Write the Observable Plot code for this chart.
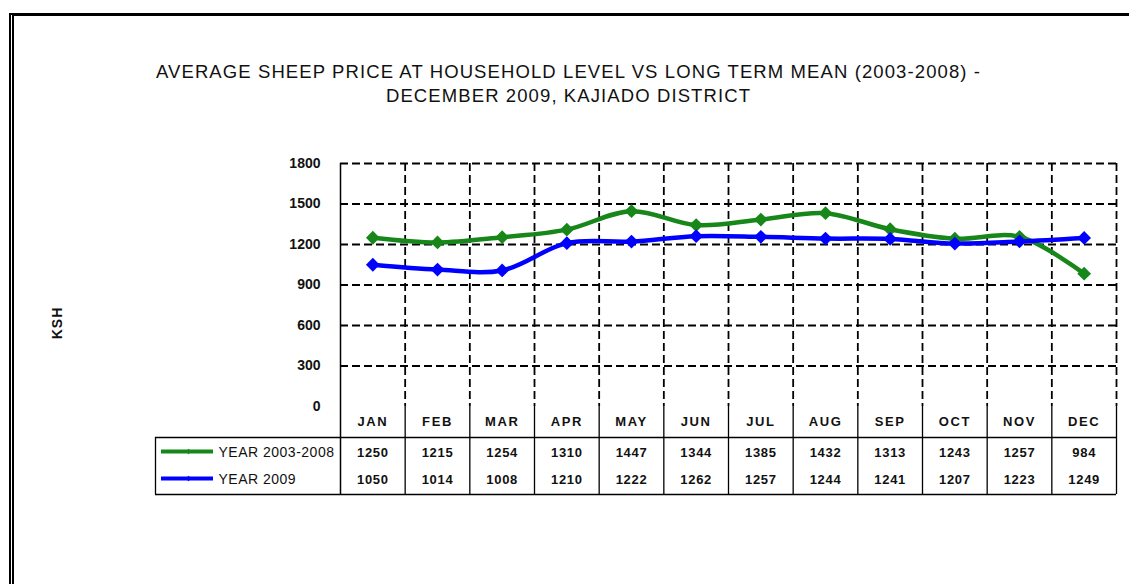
<!DOCTYPE html>
<html>
<head>
<meta charset="utf-8">
<script src="https://cdn.jsdelivr.net/npm/d3@7"></script>
<script src="https://cdn.jsdelivr.net/npm/@observablehq/plot@0.6"></script>
<style>
  html, body { margin: 0; padding: 0; background: #fff; }
  #wrap { position: relative; width: 1129px; height: 584px; overflow: hidden; }
  #frame { position: absolute; left: 9px; top: 13px; width: 1200px; height: 700px;
           border-left: 5px double #000; border-top: 3px solid #000; box-sizing: border-box; }
  #chart { position: absolute; left: 0; top: 0; }
  g[aria-description="title"] text { letter-spacing: 1.1px; }
  g[aria-description="months"] text { letter-spacing: 1.6px; }
  g[aria-description="values"] text { letter-spacing: 0.7px; }
  g[aria-description="legend"] text { letter-spacing: 0.5px; }
  g[aria-description="ylabel"] text { letter-spacing: 1px; }
</style>
</head>
<body>
<div id="wrap"><div id="frame"></div><div id="chart"></div></div>
<script>
const titleLine1 = "AVERAGE SHEEP PRICE AT HOUSEHOLD LEVEL VS LONG TERM MEAN (2003-2008) -";
const titleLine2 = "DECEMBER 2009, KAJIADO DISTRICT";
const yLabel = "KSH";
const months = ["JAN","FEB","MAR","APR","MAY","JUN","JUL","AUG","SEP","OCT","NOV","DEC"];
const seriesNames = ["YEAR 2003-2008", "YEAR 2009"];
const longTermMean = [1250,1215,1254,1310,1447,1344,1385,1432,1313,1243,1257,984];
const year2009 = [1050,1014,1008,1210,1222,1262,1257,1244,1241,1207,1223,1249];
const yTicks = [0,300,600,900,1200,1500,1800];
const colors = ["#17871a", "#0000ff"];

const seriesValues = [longTermMean, year2009];
const data = seriesValues.flatMap((vals, s) => vals.map((v, i) => ({series: seriesNames[s], s, i, month: months[i], value: v})));
const boundaries = d3.range(1, months.length + 1);
const rowDy = [46, 73];

const font = "'Liberation Sans', Arial, sans-serif";
const marks = [
  // grid
  Plot.ruleY(yTicks.filter(t => t > 0), {y: d => d, stroke: "#000", strokeWidth: 1.8, strokeDasharray: "8,4"}),
  Plot.ruleX(boundaries, {x: d => d, stroke: "#000", strokeWidth: 1.8, strokeDasharray: "8,4"}),
  // left axis line extending into table
  Plot.ruleX([0], {x: d => d, stroke: "#000", strokeWidth: 1.5, insetBottom: -88}),
  // table verticals
  Plot.ruleX(boundaries, {x: d => d, stroke: "#000", strokeWidth: 1.3, insetTop: 243, insetBottom: -88}),
  Plot.ruleX([0], {x: d => d, dx: -185, stroke: "#000", strokeWidth: 1.3, insetTop: 274, insetBottom: -88}),
  // table horizontals
  Plot.ruleY([0], {y: d => d, dy: 31, stroke: "#000", strokeWidth: 1.3, insetLeft: -185}),
  Plot.ruleY([0], {y: d => d, dy: 88, stroke: "#000", strokeWidth: 1.3, insetLeft: -185}),
  // series lines
  Plot.line(data, {x: d => d.i + 0.5, y: "value", z: "series", stroke: d => colors[d.s], strokeWidth: 4.5, curve: "catmull-rom"}),
  Plot.dot(data, {x: d => d.i + 0.5, y: "value", fill: d => colors[d.s], symbol: "diamond2", r: 6.2, stroke: null}),
  // month labels
  Plot.text(months, {x: (d, i) => i + 0.5, text: d => d, frameAnchor: "bottom", lineAnchor: "middle", dy: 15, fontSize: 13, fontWeight: "bold", fill: "#111", ariaDescription: "months"}),
  // table values
  ...seriesValues.map((vals, s) => Plot.text(vals, {x: (d, i) => i + 0.5, text: d => String(d), frameAnchor: "bottom", lineAnchor: "middle", dy: rowDy[s], fontSize: 13, fontWeight: "bold", fill: "#111", ariaDescription: "values"})),
  // legend swatches in table
  ...seriesNames.map((name, s) => Plot.ruleY([0], {y: d => d, dy: rowDy[s] - 1, stroke: colors[s], strokeWidth: 4, insetLeft: -179, insetRight: 903})),
  ...seriesNames.map((name, s) => Plot.dot([name], {frameAnchor: "bottom-left", dx: -152, dy: rowDy[s] - 1, fill: colors[s], symbol: "diamond2", r: 2.5})),
  ...seriesNames.map((name, s) => Plot.text([name], {text: d => d, frameAnchor: "bottom-left", lineAnchor: "middle", dx: -122, dy: rowDy[s], textAnchor: "start", fontSize: 14, fill: "#111", ariaDescription: "legend"})),
  // title
  Plot.text([titleLine1], {text: d => d, frameAnchor: "top", lineAnchor: "middle", dx: -160, dy: -91, fontSize: 18.5, fill: "#111", ariaDescription: "title"}),
  Plot.text([titleLine2], {text: d => d, frameAnchor: "top", lineAnchor: "middle", dx: -160, dy: -67, fontSize: 18.5, fill: "#111", ariaDescription: "title"}),
  // y label
  Plot.text([yLabel], {text: d => d, frameAnchor: "left", textAnchor: "middle", lineAnchor: "middle", dx: -283, dy: 38, rotate: -90, fontSize: 14, fontWeight: "bold", fill: "#111", ariaDescription: "ylabel"}),
  // y axis
  Plot.axisY(yTicks, {tickSize: 0, tickPadding: 20, tickFormat: d => String(d), fontSize: 14, fontWeight: "bold", fill: "#111", label: null})
];

const chart = Plot.plot({
  width: 1129,
  height: 584,
  marginLeft: 340,
  marginRight: 13,
  marginTop: 163,
  marginBottom: 178,
  style: {fontFamily: font, background: "transparent", overflow: "visible"},
  x: {type: "linear", domain: [0, months.length], axis: null},
  y: {domain: [0, 1800], ticks: yTicks},
  marks
});
document.getElementById("chart").appendChild(chart);
</script>
</body>
</html>
